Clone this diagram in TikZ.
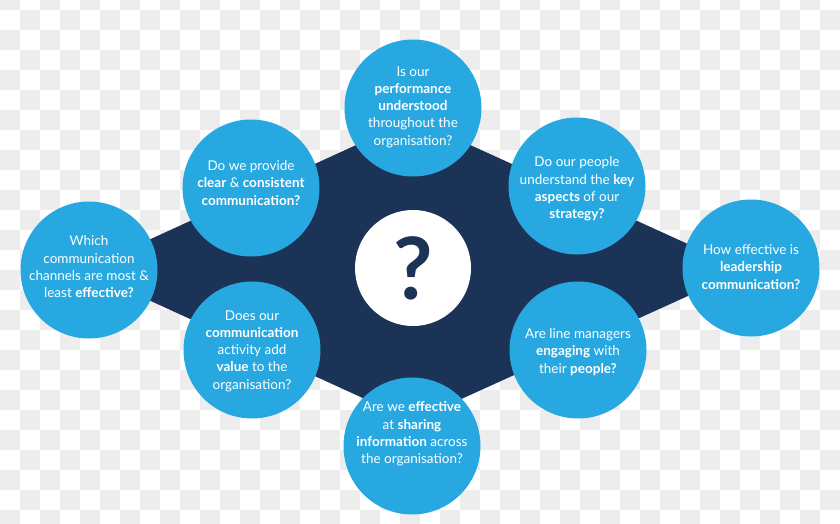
\documentclass[tikz,border=0pt]{standalone}
\usepackage{fontspec}
\setmainfont{Lato}
\definecolor{navy}{HTML}{1C3358}
\definecolor{sky}{HTML}{28A8E0}
\definecolor{chk}{HTML}{EDEDED}
\tikzset{
  bubble/.style={circle, fill=sky, minimum size=137pt, inner sep=0pt},
  ask/.style={text=white, align=center, inner sep=0pt, font=\fontsize{13.5}{17.3}\selectfont},
}

\begin{document}
\begin{tikzpicture}[x=1pt,y=-1pt]
\useasboundingbox (0,0) rectangle (840,524);
\foreach \i in {0,...,41} \foreach \j in {0,...,26} {
  \pgfmathparse{int(mod(\i+\j,2))}
  \ifnum\pgfmathresult=0 \fill[chk] (20*\i,20*\j-10) rectangle ++(20,20); \fi
}
\fill[navy] (83,270) -- (413,119) -- (745,270) -- (413,421) -- cycle;
\node[circle, fill=white, minimum size=116pt] (hub) at (413,268) {};
\node[text=navy, font=\bfseries\fontsize{86}{86}\selectfont] (qm) at (hub.center) {?};
\node[bubble] (perf) at (413,108) {};
\node[bubble] (clear) at (251,188) {};
\node[bubble] (chan) at (89,270) {};
\node[bubble] (value) at (252,350) {};
\node[bubble] (share) at (412,446) {};
\node[bubble] (strat) at (577,186) {};
\node[bubble] (lead) at (751,268) {};
\node[bubble] (mgrs) at (578,350) {};
\node[ask] (perf-t) at (413,107) {Is our\\\textbf{performance}\\\textbf{understood}\\throughout the\\organisation?};
\node[ask] (clear-t) at (251,183) {Do we provide\\\textbf{clear} \& \textbf{consistent}\\\textbf{communication?}};
\node[ask] (chan-t) at (89,267) {Which\\communication\\channels are most \&\\least \textbf{effective?}};
\node[ask] (value-t) at (252,351) {Does our\\\textbf{communication}\\activity add\\\textbf{value} to the\\organisation?};
\node[ask] (share-t) at (412,434) {Are we \textbf{effective}\\at \textbf{sharing}\\\textbf{information} across\\the organisation?};
\node[ask] (strat-t) at (577,189) {Do our people\\understand the \textbf{key}\\\textbf{aspects} of our\\\textbf{strategy?}};
\node[ask] (lead-t) at (751,267) {How effective is\\\textbf{leadership}\\\textbf{communication?}};
\node[ask] (mgrs-t) at (578,352) {Are line managers\\\textbf{engaging} with\\their \textbf{people?}};
\end{tikzpicture}
\end{document}
